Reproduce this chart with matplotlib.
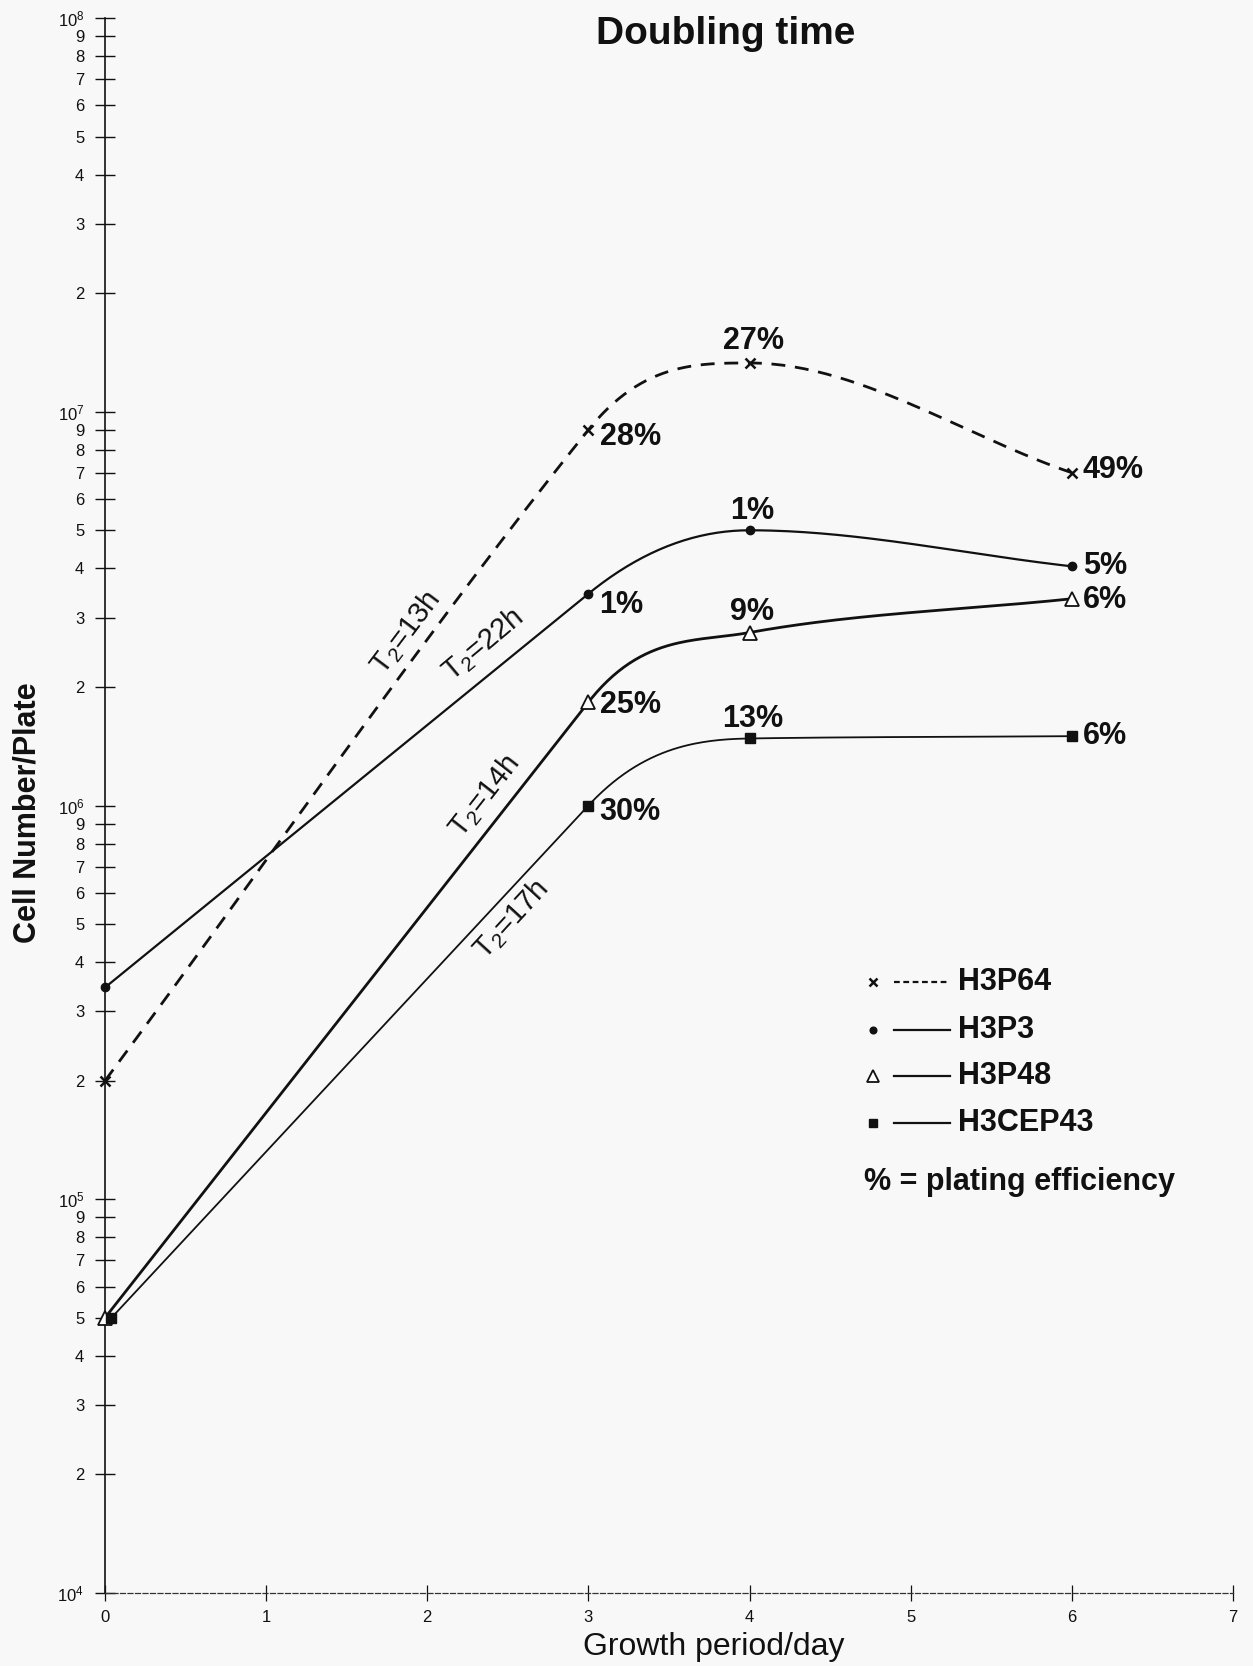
import numpy as np
import matplotlib.pyplot as plt

plt.rcParams['font.family'] = ['Liberation Sans', 'DejaVu Sans']
plt.rcParams['mathtext.fontset'] = 'custom'
plt.rcParams['mathtext.rm'] = 'Liberation Sans'
plt.rcParams['mathtext.default'] = 'regular'

# data (cells per plate)
days = [0, 3, 4, 6]
days_cep = [0.04, 3, 4, 6]
h3p64 = [2.0e5, 9.0e6, 1.33e7, 7.0e6]
h3p3 = [3.45e5, 3.45e6, 5.0e6, 4.05e6]
h3p48 = [5.0e4, 1.83e6, 2.75e6, 3.35e6]
h3cep43 = [5.0e4, 1.0e6, 1.48e6, 1.5e6]

# plating efficiency labels
pe_h3p64 = ['', '28%', '27%', '49%']
pe_h3p3 = ['', '1%', '1%', '5%']
pe_h3p48 = ['', '25%', '9%', '6%']
pe_h3cep43 = ['', '30%', '13%', '6%']

# doubling times
t2_labels = ['T$_2$=13h', 'T$_2$=22h', 'T$_2$=14h', 'T$_2$=17h']

names = ['H3P64', 'H3P3', 'H3P48', 'H3CEP43']

x_ticks = [0, 1, 2, 3, 4, 5, 6, 7]


def smooth(x, y, n=60):
	# hermite curve in log space
	x = np.asarray(x, float)
	ly = np.log10(y)
	h = np.diff(x)
	d = np.diff(ly) / h
	m = np.zeros_like(ly)
	m[0] = d[0]
	m[-1] = d[-1]
	for k in range(1, len(x) - 1):
		if d[k - 1] * d[k] <= 0:
			m[k] = 0
		elif h[k - 1] > h[k]:
			# follow the long straight stretch, limited so it does not overshoot
			m[k] = np.sign(d[k - 1]) * min(abs(d[k - 1]), 3 * abs(d[k]))
		else:
			w1 = 2 * h[k] + h[k - 1]
			w2 = h[k] + 2 * h[k - 1]
			m[k] = (w1 + w2) / (w1 / d[k - 1] + w2 / d[k])
	xs, ys = [], []
	for k in range(len(x) - 1):
		t = np.linspace(0, 1, n)
		h00 = 2 * t**3 - 3 * t**2 + 1
		h10 = t**3 - 2 * t**2 + t
		h01 = -2 * t**3 + 3 * t**2
		h11 = t**3 - t**2
		p = h00 * ly[k] + h10 * h[k] * m[k] + h01 * ly[k + 1] + h11 * h[k] * m[k + 1]
		xs.extend(x[k] + t * h[k])
		ys.extend(p)
	return np.array(xs), 10 ** np.array(ys)


fig = plt.figure(figsize=(12.53, 16.66), dpi=100, facecolor='#f8f8f8')
ax = fig.add_axes([0.0838, 0.0438, 0.9002, 0.9454])
ax.set_facecolor('#f8f8f8')

k = '#111111'
series = [
	(days, h3p64, pe_h3p64, dict(ls=(0, (5, 3.5)), lw=2.0), dict(marker='x', ms=7, mew=1.8, mfc=k)),
	(days, h3p3, pe_h3p3, dict(ls='-', lw=1.6), dict(marker='o', ms=6, mfc=k)),
	(days, h3p48, pe_h3p48, dict(ls='-', lw=2.0), dict(marker='^', ms=10, mfc='white', mew=1.3)),
	(days_cep, h3cep43, pe_h3cep43, dict(ls='-', lw=1.3), dict(marker='s', ms=7, mfc=k)),
]

# label offsets (points) for the day 3 / day 4 / day 6 labels
offs = [
	[None, (8, -5), (3, 16), (8, 2)],
	[None, (8, -8), (2, 14), (8, 0)],
	[None, (8, -2), (2, 15), (8, -1)],
	[None, (8, -5), (2, 14), (8, 0)],
]

for i, (x, y, pe, lstyle, mstyle) in enumerate(series):
	sx, sy = smooth(x, y)
	ax.plot(sx, sy, color=k, clip_on=False, **lstyle)
	ax.plot(x, y, ls='none', color=k, mec=k, clip_on=False, zorder=5, **mstyle)
	for j in range(1, len(x)):
		ha = 'center' if j == 2 else 'left'
		ax.annotate(pe[j], (x[j], y[j]), xytext=offs[i][j], textcoords='offset points',
			ha=ha, va='center', fontsize=22, fontweight='bold', color=k)

# doubling time labels along the curves
t2_pos = [(1.866, 10**6.44, 53), (2.343, 10**6.41, 40), (2.356, 10**6.024, 52), (2.521, 10**5.711, 47.5)]
for lab, (px, py, rot) in zip(t2_labels, t2_pos):
	ax.text(px, py, lab, rotation=rot, rotation_mode='anchor', ha='center', va='center',
		fontsize=21, color=k)

ax.set_yscale('log')
ax.set_xlim(0, 7)
ax.set_ylim(1e4, 1e8)

yt, yl = [], []
for e in range(4, 9):
	yt.append(10.0**e)
	yl.append('$10^{%d}$' % e)
	if e < 8:
		for s in range(2, 10):
			yt.append(s * 10.0**e)
			yl.append(str(s))
ax.set_yticks(yt)
ax.set_yticklabels(yl)
ax.minorticks_off()
ax.tick_params(axis='y', direction='inout', length=14, width=1.0, pad=8, labelsize=12, colors=k)

ax.set_xticks(x_ticks)
ax.set_xticklabels([str(t) for t in x_ticks])
ax.tick_params(axis='x', direction='inout', length=12, width=0.9, pad=6, labelsize=12, colors=k)

for s in ['top', 'right']:
	ax.spines[s].set_visible(False)
ax.spines['left'].set_linewidth(1.2)
ax.spines['left'].set_color(k)
ax.spines['bottom'].set_linewidth(0.9)
ax.spines['bottom'].set_linestyle((0, (4, 2)))
ax.spines['bottom'].set_color('#333333')

fig.text(0.579, 0.9796, 'Doubling time', ha='center', va='center', fontsize=28, fontweight='bold', color=k)
fig.text(0.022, 0.512, 'Cell Number/Plate', rotation=90, ha='center', va='center', fontsize=22, fontweight='bold', color=k)
fig.text(0.570, 0.0114, 'Growth period/day', ha='center', va='center', fontsize=23, color=k)

# hand-drawn style legend
leg_y = [0.388, 0.3576, 0.328, 0.2982]
leg_ls = [(0, (2.6, 1.6)), '-', '-', '-']
for i, (x, y, pe, lstyle, mstyle) in enumerate(series):
	yy = leg_y[i]
	ms = dict(mstyle)
	ms['ms'] = ms['ms'] * 0.8
	ax.plot([0.6805], [yy], transform=ax.transAxes, ls='none', color=k, mec=k, clip_on=False, **ms)
	ax.plot([0.6994, 0.7495], [yy, yy], transform=ax.transAxes, color=k, clip_on=False,
		ls=leg_ls[i], lw=1.6)
	ax.text(0.756, yy, names[i], transform=ax.transAxes, ha='left', va='center',
		fontsize=22, fontweight='bold', color=k)
ax.text(0.673, 0.261, '% = plating efficiency', transform=ax.transAxes, ha='left', va='center',
	fontsize=22, fontweight='bold', color=k)

plt.savefig('out.png', dpi=100, facecolor=fig.get_facecolor())
